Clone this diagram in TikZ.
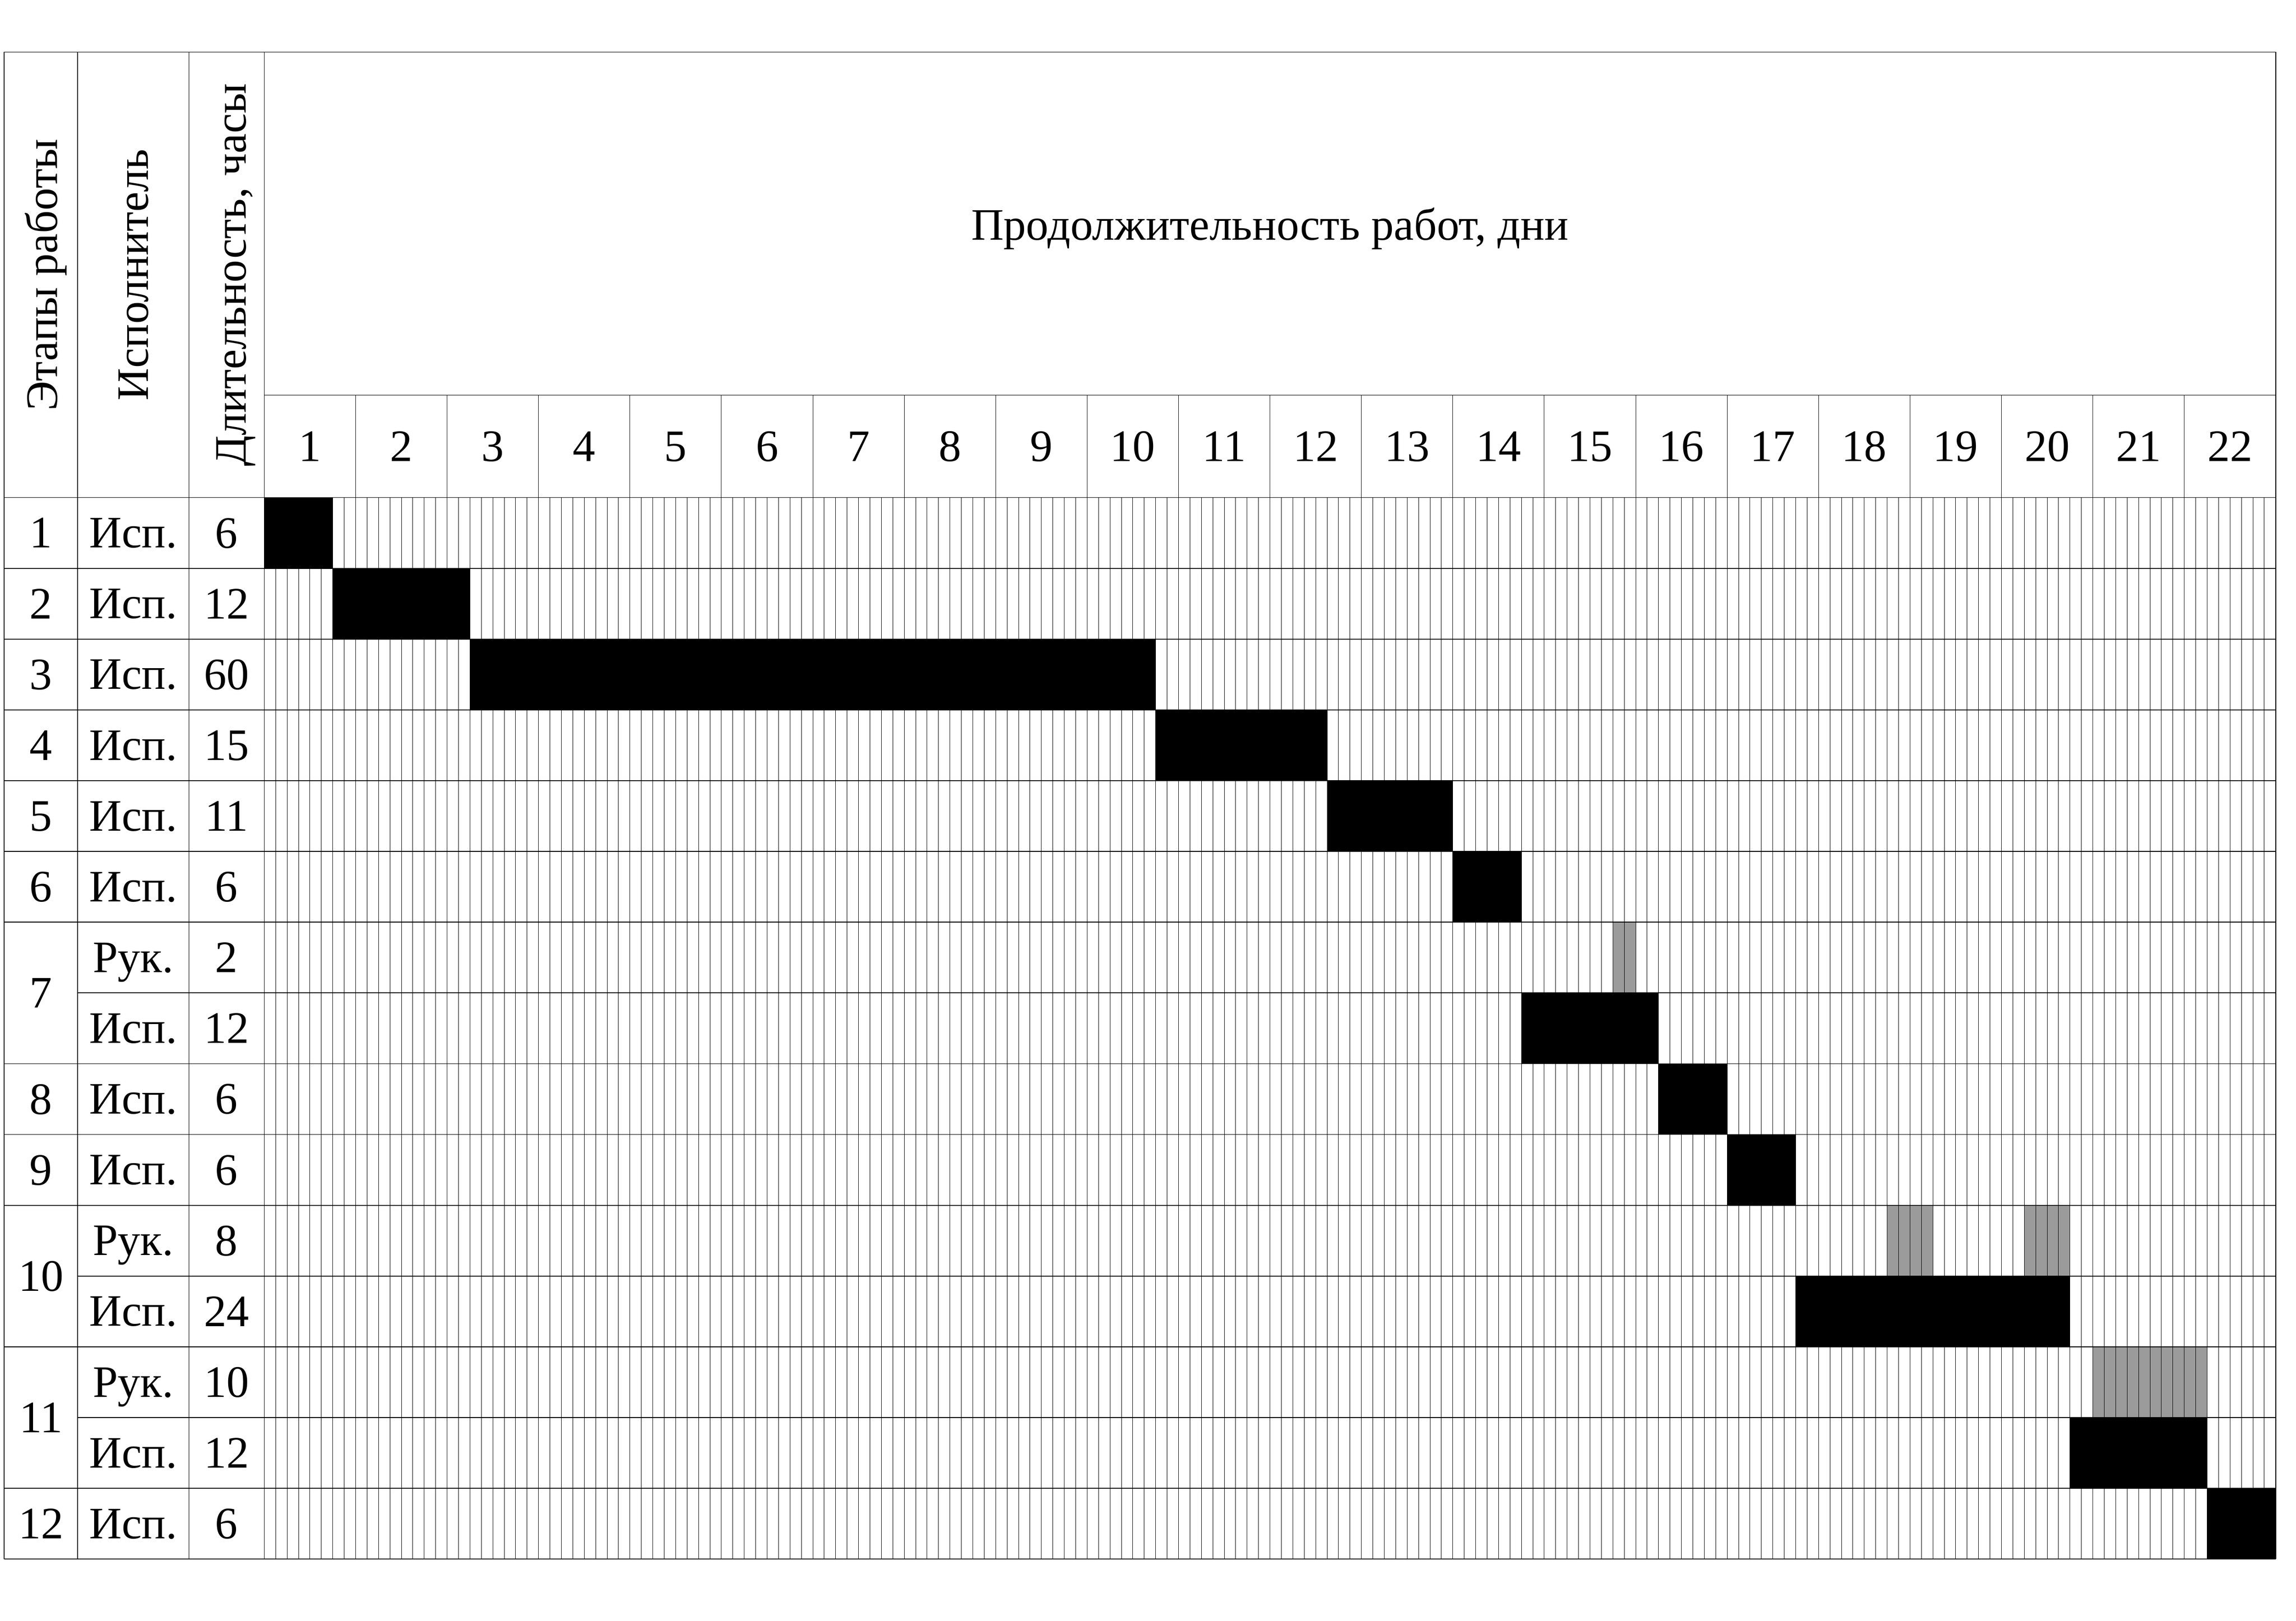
\documentclass[tikz,border=0pt]{standalone}
\usepackage{fontspec}
\setmainfont{Liberation Serif}
\usepackage{tikz}
\usetikzlibrary{positioning}
\definecolor{rukgray}{RGB}{155,155,155}
\newcommand{\rowh}{0.774}

\begin{document}
\begin{tikzpicture}
[
	cell/.style = {inner sep=0pt, text depth=0pt, font=\fontsize{14pt}{16pt}\selectfont},
	headcell/.style = {cell, rotate=90},
	thin/.style = {line width=0.15pt},
	rule/.style = {line width=0.25pt},
	busy/.style = {fill=black},
	lead/.style = {fill=rukgray}
]

\useasboundingbox (-2.890,-12.285) rectangle (22.222,5.442);

% work bars, in hours
\foreach \r/\a/\b in {1/0/6, 2/6/18, 3/18/78, 4/78/93, 5/93/104, 6/104/110, 8/110/122, 9/122/128, 10/128/134, 12/134/158, 14/158/170, 15/170/176}
	\fill[busy] (\a/8,{-(\r-1)*\rowh}) rectangle (\b/8,{-\r*\rowh});
\foreach \r/\a/\b in {7/118/120, 11/142/146, 11/154/158, 13/160/170}
	\fill[lead] (\a/8,{-(\r-1)*\rowh}) rectangle (\b/8,{-\r*\rowh});

% hour grid
\foreach \h in {1,...,175}
	\draw[thin] (\h/8,0) -- (\h/8,{-15*\rowh});
\foreach \d in {1,...,21}
	\draw[thin] (\d,0) -- (\d,1.12);
\draw[rule] (0,1.12) -- (22,1.12);

% rows
\foreach \r in {0,...,6,8,9,10,12,14,15}
	\draw[rule] (-2.843,{-\r*\rowh}) -- (22,{-\r*\rowh});
\foreach \r in {7,11,13}
	\draw[rule] (-2.041,{-\r*\rowh}) -- (22,{-\r*\rowh});
\draw[rule] (-2.843,4.872) -- (22,4.872);
\foreach \x in {-2.843,-2.041,-0.823,0,22}
	\draw[rule] (\x,4.872) -- (\x,{-15*\rowh});

% header
\node[headcell] (stages) at (-2.442,2.436) {Этапы работы};
\node[headcell] (performer) at (-1.432,2.436) {Исполнитель};
\node[headcell] (duration) at (-0.36,2.436) {Длительность, часы};
\node[cell] (period) at (11,2.996) {Продолжительность работ, дни};
\foreach \d in {1,...,22}
	\node[cell] (day\d) at (\d-0.5,0.56) {\d};

% table body
\foreach \s/\y in {1/0.5, 2/1.5, 3/2.5, 4/3.5, 5/4.5, 6/5.5, 7/7, 8/8.5, 9/9.5, 10/11, 11/13, 12/14.5}
	\node[cell] (stage\s) at (-2.442,{-\y*\rowh}) {\s};
\foreach \r/\w/\t in {1/Исп./6, 2/Исп./12, 3/Исп./60, 4/Исп./15, 5/Исп./11, 6/Исп./6, 7/Рук./2, 8/Исп./12, 9/Исп./6, 10/Исп./6, 11/Рук./8, 12/Исп./24, 13/Рук./10, 14/Исп./12, 15/Исп./6}
{
	\node[cell] (who\r) at (-1.432,{-(\r-0.5)*\rowh}) {\w};
	\node[cell] (hours\r) at (-0.4115,{-(\r-0.5)*\rowh}) {\t};
}

\end{tikzpicture}
\end{document}
